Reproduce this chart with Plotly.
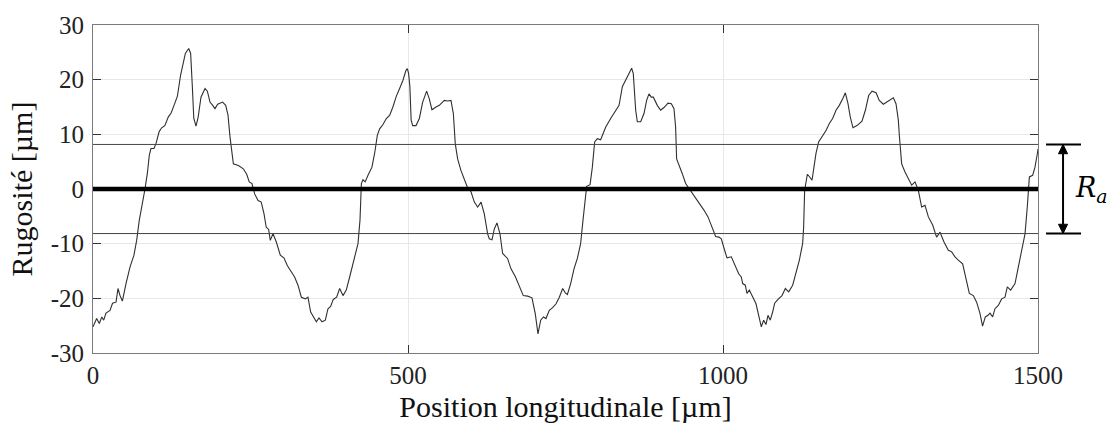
import plotly.graph_objects as go

# ---- data ----
position_um = [0, 5.8, 10, 14, 17, 20.6, 27, 31, 36.5, 39.7, 42.9, 46.6, 52.4, 58.7, 65, 69.3, 73.5, 77.8,
               82.5, 86.2, 89.4, 92, 96.8, 100, 105, 109, 114, 119.6, 124, 128.6, 134, 139, 143, 146.6,
               151.9, 155, 157.7, 160, 163.5, 167, 171.4, 177.8, 181.5, 185.7, 190, 193.6, 197.9, 205.8,
               210.6, 214.3, 217.5, 219.6, 222.8, 230.7, 238.6, 244, 248, 252.3, 256.6, 262, 267, 271.4,
               275, 278.8, 281.4, 285.7, 291, 297.3, 303, 308.4, 313.7, 320, 325.4, 330.7, 337, 341.2,
               345.5, 350.8, 354.5, 358.7, 363.5, 368.8, 373, 377.2, 381.4, 386.7, 391.5, 396.8, 402,
               407.4, 414, 420.6, 423.8, 426, 428.5, 432, 436.5, 442.8, 447, 451.3, 455, 460.3, 465.6,
               471, 476, 481.5, 486.7, 492, 496.8, 499, 501, 503, 505, 507.4, 512.7, 518, 523.3, 529.6,
               533.8, 538, 544.4, 549.7, 557.6, 563, 568.2, 572, 575, 578.8, 584, 589.4, 593.6, 600,
               605.3, 610.6, 616, 621, 626.4, 629, 633.3, 637, 641.2, 646, 650.2, 658, 663.5, 670.3,
               676.7, 683, 690, 696.8, 702, 706.3, 710.6, 715, 719, 724.3, 729.6, 735, 740.2, 745.5,
               749.7, 753, 758.2, 763.5, 768.8, 774, 777.8, 781, 783.6, 789, 792.6, 796.3, 800.5, 805.8,
               810, 813.7, 821.7, 829.6, 835, 840.2, 845.5, 850.8, 855, 857.6, 861.4, 864, 869.3, 874.6,
               878.8, 882.5, 886.2, 889.4, 895.7, 901, 906.3, 912.7, 918, 922.2, 924.8, 926.4, 930,
               935.4, 940.7, 946, 954, 962, 970, 976.2, 983, 988.3, 993.6, 997.3, 1002.6, 1006.3,
               1013.2, 1019.6, 1024.9, 1029, 1031.2, 1035.4, 1038, 1041.8, 1047, 1052.4, 1056.6, 1060.8,
               1064.5, 1068.2, 1071.4, 1075, 1078.8, 1082, 1087.3, 1093.6, 1099, 1104.2, 1110.6, 1115.9,
               1121.2, 1126.4, 1128, 1129.6, 1131.7, 1133.9, 1137.6, 1141.3, 1144.4, 1147.6, 1151.8,
               1157, 1163.5, 1168.8, 1174, 1179.4, 1184.6, 1190, 1194.2, 1198.4, 1202, 1206.3, 1212.7,
               1220.6, 1226, 1231.2, 1236.5, 1243, 1248, 1254.5, 1259.8, 1265, 1270.4, 1274.6, 1278.3,
               1279.9, 1282, 1283.6, 1288.9, 1294.2, 1299.5, 1304.8, 1310, 1315.3, 1320.6, 1326, 1332.8,
               1339, 1344.5, 1350.8, 1357.7, 1363, 1368.2, 1373.5, 1380.4, 1385.7, 1391, 1397.4, 1402.6,
               1408, 1412, 1416.4, 1420.6, 1423.8, 1428, 1431.7, 1437, 1442.3, 1447.6, 1451.3, 1456.6,
               1463.5, 1468.8, 1474, 1479.4, 1483, 1486.3, 1491.5, 1495.2, 1499, 1500]
roughness_um = [-25.2, -23.7, -24.6, -23.4, -24, -22.7, -22.2, -20.9, -20.7, -18.2, -19.5, -20.5, -17.3,
                -14.3, -12.1, -9.4, -5.7, -3.3, 0, 2.8, 6.2, 7.4, 7.4, 8.3, 10.5, 11.2, 11.6, 13.2, 13.9,
                15.3, 17, 20.8, 22.9, 24.8, 25.7, 24.8, 18.7, 12.9, 11.5, 13.2, 16.8, 18.4, 17.9, 15.9,
                15.3, 14.7, 15.5, 15.9, 15.3, 13.5, 9.5, 7.7, 4.6, 4.3, 3.7, 2.7, 1.3, 1, -0.9, -2.1,
                -2.4, -4.5, -7, -7.4, -9.4, -8.2, -9.7, -12.1, -12.6, -14, -15, -16.1, -17.6, -19.8,
                -20.1, -19.8, -22.5, -23.7, -24.3, -23.6, -24.3, -24, -21.9, -21.5, -20.2, -19.8, -18.2,
                -19.5, -18.5, -16.1, -13, -10, -5.7, 1, 1.7, 1.3, 2.5, 4, 6.5, 9.8, 11, 11.8, 12.9, 13.5,
                15, 17, 18.4, 19.9, 21.7, 22, 21.1, 18.7, 12.6, 11.6, 11.6, 12.9, 15.9, 17.9, 16.5, 14.5,
                15, 15.3, 16.2, 16.1, 16.2, 13.8, 8.3, 5.5, 3.4, 1.6, 0.5, -0.5, -2.4, -3.3, -2.4, -4.5,
                -8.2, -9.1, -9.3, -7.3, -6.2, -8.2, -11.8, -12.7, -14.6, -16, -17.9, -19.5, -19.6, -19.9,
                -22.8, -26.5, -24, -23.4, -23.7, -22.2, -21.7, -21, -19.8, -18.2, -19, -19.3, -17.3,
                -14.6, -12.7, -10, -5.7, -2.1, 0.5, 0.8, 4, 8.6, 9.2, 9, 10.1, 11.3, 12.9, 14.4, 15.3,
                18.7, 19.9, 21.1, 22.1, 21.1, 14.4, 12.3, 12.3, 13.8, 16.2, 17.4, 16.8, 16.8, 15.3, 14.4,
                14.9, 15.7, 15.6, 14.7, 11.3, 5.5, 4.5, 2.8, 1, 0.1, -1.2, -2.4, -3.9, -5.1, -7.3, -8.7,
                -8.8, -9.1, -11.2, -12.6, -12.4, -14, -15.5, -16.1, -17.3, -17.6, -19.1, -18.5, -19.8,
                -21, -23.1, -25.2, -24, -24.8, -23.1, -24, -22.5, -20.9, -20.2, -19.5, -18.2, -18.8,
                -17.6, -15.5, -13, -10, -7, -0.2, 1.6, 2.7, 2.2, 1.6, 4, 6.5, 8.6, 9.5, 10.7, 12, 12.9,
                14.4, 15.3, 16.5, 17.6, 15.6, 13.2, 11.2, 11.6, 12.4, 14.4, 17.1, 17.9, 17.6, 16.2, 15.5,
                15.9, 16.3, 16.7, 15.6, 12.6, 9.8, 6.8, 4.6, 3.1, 1.9, 0.7, 1.3, -0.2, -3.3, -3, -5.1,
                -6.6, -8.8, -7.9, -9.7, -11.2, -11.5, -12.4, -13, -13.7, -16.4, -19.1, -19.5, -20.7,
                -22.8, -25.1, -23.4, -23.1, -22.7, -23.4, -21.9, -21.3, -20.1, -19.8, -17.9, -18.5,
                -17.3, -14.3, -11.8, -8.2, -3.3, 2.2, 2.5, 4, 6.5, 7.3]
ra_level = 8.15
x_tick_vals = [0, 500, 1000, 1500]
x_tick_text = ["0", "500", "1000", "1500"]
y_tick_vals = [-30, -20, -10, 0, 10, 20, 30]
y_tick_text = ["-30", "-20", "-10", "0", "10", "20", "30"]

FONT = "Liberation Serif"

fig = go.Figure()
fig.add_trace(go.Scatter(x=position_um, y=roughness_um, mode="lines",
                         line=dict(color="#303030", width=1.1), showlegend=False,
                         hoverinfo="skip"))

# mean line and +/- Ra lines (across plot width)
fig.add_shape(type="line", xref="paper", yref="y", x0=0, x1=1, y0=0, y1=0,
              line=dict(color="black", width=4.5))

ax_x = 1.0265      # paper x of the Ra arrow
head_hw = 0.0048   # half width of arrow head (paper units)
head_h = 1.7       # arrow head height (data units)
for lvl in (ra_level, -ra_level):
    fig.add_shape(type="line", xref="paper", yref="y", x0=0, x1=1, y0=lvl, y1=lvl,
                  line=dict(color="#444444", width=1))
    # external bars
    fig.add_shape(type="line", xref="paper", yref="y", x0=1.0085, x1=1.0455, y0=lvl, y1=lvl,
                  line=dict(color="black", width=2))
    # arrow heads
    sgn = 1 if lvl > 0 else -1
    base = lvl - sgn * head_h
    fig.add_shape(type="path", xref="paper", yref="y",
                  path=f"M {ax_x} {lvl} L {ax_x - head_hw} {base} L {ax_x + head_hw} {base} Z",
                  fillcolor="black", line=dict(color="black", width=1))

# arrow shaft
fig.add_shape(type="line", xref="paper", yref="y", x0=ax_x, x1=ax_x,
              y0=-ra_level + head_h, y1=ra_level - head_h,
              line=dict(color="black", width=2))

fig.add_annotation(xref="paper", yref="y", x=1.037, y=0, xanchor="left", yanchor="middle",
                   text="<i>R</i><sub><i>a</i></sub>", showarrow=False,
                   font=dict(family="'DejaVu Serif', serif", size=27, color="black"))

axis_common = dict(showline=True, linecolor="#7a7a7a", linewidth=1, mirror="ticks",
                   ticks="inside", ticklen=8, tickcolor="#333333", tickwidth=1,
                   showgrid=True, gridcolor="#e8e8e8", gridwidth=1, zeroline=False,
                   tickfont=dict(family=FONT, size=25, color="#222222"))

fig.update_xaxes(range=[0, 1500], tickvals=x_tick_vals, ticktext=x_tick_text,
                 title=dict(text="Position longitudinale [µm]", standoff=7,
                            font=dict(family=FONT, size=30, color="#111111")),
                 **axis_common)
fig.update_yaxes(range=[-30, 30], tickvals=y_tick_vals, ticktext=y_tick_text,
                 ticklabelstandoff=3,
                 title=dict(text="Rugosité [µm]", standoff=9,
                            font=dict(family=FONT, size=30, color="#111111")),
                 **axis_common)

fig.update_layout(width=1107, height=430, margin=dict(l=93, r=69, t=25, b=77),
                  paper_bgcolor="white", plot_bgcolor="white")

fig.write_html("out.html")
